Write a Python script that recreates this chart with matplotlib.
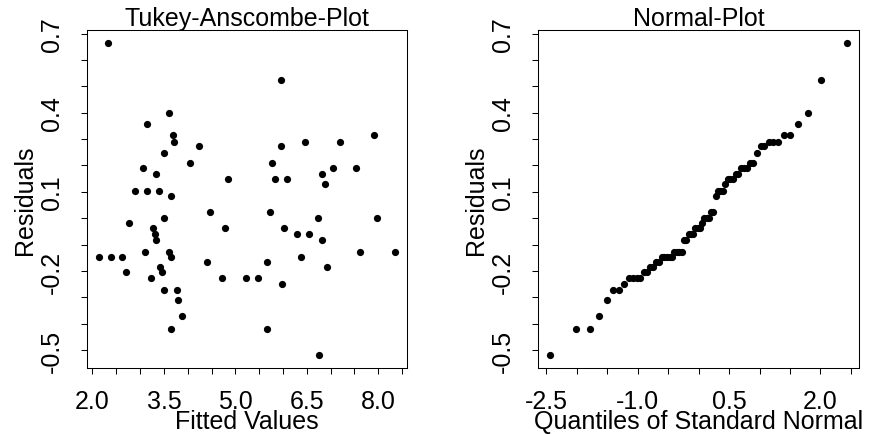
import matplotlib
matplotlib.use("Agg")
import matplotlib.pyplot as plt
import numpy as np
from statistics import NormalDist
from matplotlib.ticker import FixedLocator

# ---- data ----
fitted = [2.33, 3.60, 3.14, 3.69, 3.71, 4.23, 3.50, 4.04, 3.06, 3.33,
          4.85, 2.89, 3.14, 3.39, 3.65, 4.47, 2.77, 3.50, 4.78, 3.28,
          3.31, 3.34, 3.11, 3.61, 3.64, 2.14, 2.38, 2.63, 4.41, 3.42,
          3.45, 2.70, 3.22, 4.72, 5.22, 3.51, 3.77, 3.80, 3.87, 3.65,
          5.96, 7.92, 5.96, 6.46, 7.19, 5.77, 5.84, 6.09, 6.82, 7.06,
          7.54, 6.88, 5.72, 6.73, 7.98, 6.03, 6.30, 6.55, 6.82, 7.62,
          8.35, 6.38, 5.66, 6.92, 5.47, 5.98, 5.66, 6.76]
residuals = [0.666, 0.398, 0.356, 0.315, 0.290, 0.273, 0.249, 0.208, 0.189, 0.166,
             0.148, 0.104, 0.104, 0.104, 0.084, 0.022, -0.019, 0.000, -0.038, -0.038,
             -0.061, -0.084, -0.126, -0.126, -0.145, -0.145, -0.145, -0.145, -0.166, -0.185,
             -0.205, -0.205, -0.228, -0.228, -0.228, -0.270, -0.270, -0.311, -0.372, -0.418,
             0.523, 0.315, 0.273, 0.290, 0.290, 0.208, 0.148, 0.148, 0.166, 0.189,
             0.189, 0.130, 0.022, 0.000, 0.000, -0.038, -0.061, -0.061, -0.084, -0.126,
             -0.126, -0.145, -0.166, -0.185, -0.228, -0.251, -0.418, -0.520]

left_xticks = [2.0, 2.5, 3.0, 3.5, 4.0, 4.5, 5.0, 5.5, 6.0, 6.5, 7.0, 7.5, 8.0, 8.5]
left_xlabels = ["2.0", "3.5", "5.0", "6.5", "8.0"]
right_xticks = [-2.5, -2.0, -1.5, -1.0, -0.5, 0.0, 0.5, 1.0, 1.5, 2.0, 2.5]
right_xlabels = ["-2.5", "-1.0", "0.5", "2.0"]
yticks = [-0.5, -0.4, -0.3, -0.2, -0.1, 0.0, 0.1, 0.2, 0.3, 0.4, 0.5, 0.6, 0.7]
ylabels = ["-0.5", "-0.2", "0.1", "0.4", "0.7"]

# normal quantiles (qqnorm)
n = len(residuals)
sorted_res = sorted(residuals)
theo = [NormalDist().inv_cdf((i + 0.5) / n) for i in range(n)]

plt.rcParams["font.family"] = ["Liberation Sans", "DejaVu Sans"]
FS = 18

fig = plt.figure(figsize=(8.71, 4.35), dpi=100)
W, H = 871, 435
ax1 = fig.add_axes([87.3 / W, (H - 369) / H, 319.4 / W, 338 / H])
ax2 = fig.add_axes([538.3 / W, (H - 369) / H, 320.7 / W, 338 / H])


def rlim(vals):
    lo, hi = min(vals), max(vals)
    r = hi - lo
    return lo - 0.04 * r, hi + 0.04 * r


def style(ax, xt, xl, title, xlabel):
    ax.set_xticks([float(s) for s in xl])
    ax.set_xticklabels(xl)
    ax.xaxis.set_minor_locator(FixedLocator([t for t in xt if f"{t:.1f}" not in xl]))
    ax.set_yticks([float(s) for s in ylabels])
    ax.set_yticklabels(ylabels)
    ax.yaxis.set_minor_locator(FixedLocator([t for t in yticks if f"{t:.1f}" not in ylabels]))
    ax.tick_params(which="both", direction="out", length=4.1, width=0.75, color="black",
                   labelsize=FS)
    ax.tick_params(axis="x", pad=11)
    ax.tick_params(axis="y", pad=12.5)
    plt.setp(ax.get_yticklabels(), rotation=90, va="center")
    for s in ax.spines.values():
        s.set_linewidth(0.75)
        s.set_color("black")
    ax.set_title(title, fontsize=FS, pad=1)
    ax.set_xlabel(xlabel, fontsize=FS, labelpad=-2.5)
    ax.set_ylabel("Residuals", fontsize=FS, labelpad=2.5)


ax1.plot(fitted, residuals, "o", color="black", ms=5.2, mew=0)
ax1.set_xlim(*rlim(fitted))
ax1.set_ylim(*rlim(residuals))
style(ax1, left_xticks, left_xlabels, "Tukey-Anscombe-Plot", "Fitted Values")

ax2.plot(theo, sorted_res, "o", color="black", ms=5.2, mew=0)
ax2.set_xlim(*rlim(theo))
ax2.set_ylim(*rlim(sorted_res))
style(ax2, right_xticks, right_xlabels, "Normal-Plot", "Quantiles of Standard Normal")

fig.savefig("out.png", dpi=100)
